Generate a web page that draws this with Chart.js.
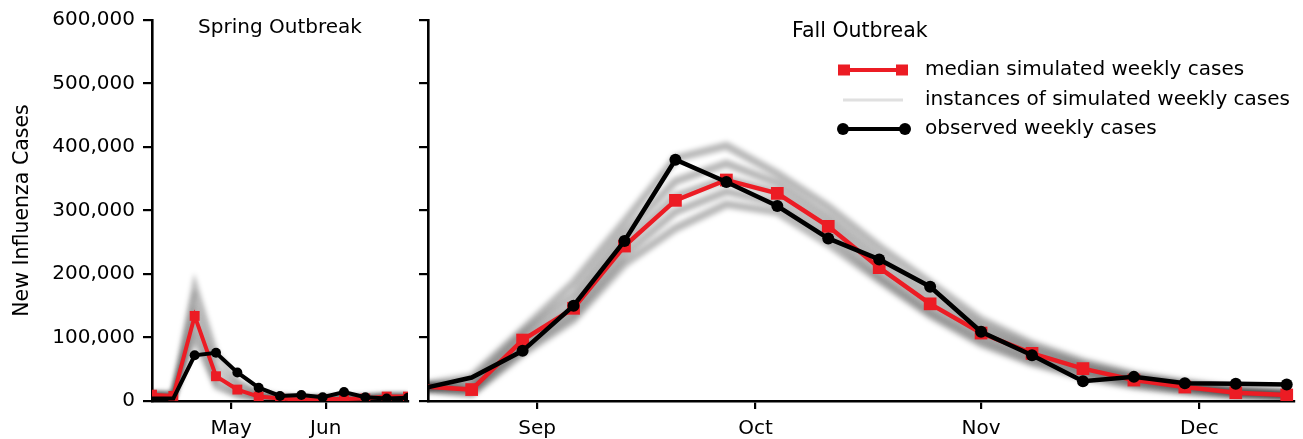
<!DOCTYPE html>
<html><head><meta charset="utf-8">
<script src="https://cdn.jsdelivr.net/npm/chart.js@4.4.1/dist/chart.umd.min.js"></script>
<style>
html,body{margin:0;padding:0;background:#fff;}
#wrap{position:relative;width:1303px;height:439px;overflow:hidden;background:#fff;}
.box{position:absolute;top:0;height:439px;}
</style></head><body>
<div id="wrap">
  <div class="box" style="left:0;width:420px;"><canvas id="c1"></canvas></div>
  <div class="box" style="left:410px;width:893px;"><canvas id="c2"></canvas></div>
</div>
<script>
// ---------- DATA ----------
// day-of-year (2009) of each weekly point
const springDays = [95,102,109,116,123,130,137,144,151,158,165,172,179];
const springMedian   = [10000, 8000, 134000, 39000, 18000, 7000, 4000, 2000, 3000, 3000, 4000, 7000, 7000];
const springObserved = [4000, 4000, 72000, 76000, 45000, 21000, 8000, 9500, 6000, 14000, 6000, 4000, 5000];
const springInst1 = [12000, 12000, 185000, 75000, 32000, 14000, 7000, 5000, 5000, 6000, 7000, 9000, 9000];
const springInst2 = [11000, 10000, 160000, 55000, 25000, 10000, 5000, 3000, 4000, 4000, 5000, 8000, 8000];
const springInst3 = [10000, 8000, 136000, 41000, 18000, 7000, 4000, 2000, 3000, 3000, 4000, 7000, 7000];
const springInst4 = [9000, 6000, 116000, 30000, 12000, 5000, 3000, 1500, 2000, 2000, 3000, 5000, 5000];
const springInst5 = [8000, 5000, 98000, 22000, 8000, 3000, 2000, 1000, 1500, 1500, 2000, 4000, 4000];

const fallDays = [228,235,242,249,256,263,270,277,284,291,298,305,312,319,326,333,340,347];
const fallMedian   = [23000, 18000, 96000, 146000, 244000, 316000, 348000, 327000, 275000, 210000, 153000, 107000, 75000, 51000, 33000, 22000, 13000, 9500];
const fallObserved = [19000, 37000, 79000, 150000, 252000, 380000, 345000, 307000, 256000, 223000, 180000, 109000, 72000, 31000, 38000, 28000, 27000, 26000];
const fallInst1 = [24000, 38000, 112000, 186000, 282000, 382000, 402000, 358000, 306000, 243000, 186000, 128000, 90000, 62000, 42000, 29000, 19000, 14000];
const fallInst2 = [23000, 28000, 104000, 167000, 264000, 346000, 374000, 343000, 290000, 227000, 169000, 117000, 82000, 56000, 37000, 25000, 16000, 11000];
const fallInst3 = [22000, 20000, 93000, 150000, 247000, 322000, 350000, 328000, 276000, 212000, 155000, 108000, 75000, 50000, 33000, 22000, 13000, 9000];
const fallInst4 = [21000, 15000, 83000, 138000, 230000, 298000, 330000, 312000, 262000, 198000, 142000, 98000, 66000, 44000, 28000, 18000, 11000, 8000];
const fallInst5 = [20000, 12000, 75000, 128000, 216000, 272000, 310000, 298000, 248000, 190000, 135000, 90000, 60000, 38000, 24000, 15000, 9000, 6000];

const yTickValues = [0, 100000, 200000, 300000, 400000, 500000, 600000];
const springTickDays = [121, 152];
const springTickLabels = ['May', 'Jun'];
const fallTickDays = [244, 274, 305, 335];
const fallTickLabels = ['Sep', 'Oct', 'Nov', 'Dec'];

const titleSpring = 'Spring Outbreak';
const titleFall = 'Fall Outbreak';
const yAxisTitle = 'New Influenza Cases';
const legendLabels = ['median simulated weekly cases', 'instances of simulated weekly cases', 'observed weekly cases'];

// ---------- STYLE ----------
const FONT = 'DejaVu Sans';
const RED = '#ec1c24';
const INST = 'rgba(0,0,0,0.28)';
const OFF = 410;

function pts(xs, ys){ return xs.map((x,i)=>({x:x, y:ys[i]})); }

function instDs(xs, arr, w){
  return {data:pts(xs,arr), borderColor:INST, borderWidth:w, pointRadius:0, tension:0, order:5, isInstance:true};
}

const blurPlugin = {
  id:'instBlur',
  beforeDatasetDraw(chart, args){
    if(args.meta._dataset && args.meta._dataset.isInstance){ chart.ctx.filter = 'blur(2.5px)'; }
  },
  afterDatasetDraw(chart, args){
    chart.ctx.filter = 'none';
  }
};

const textPlugin = {
  id:'panelText',
  afterDraw(chart){
    const o = chart.options.plugins.panelText;
    if(!o) return;
    const ctx = chart.ctx;
    ctx.save();
    ctx.fillStyle = '#000';
    ctx.font = o.size + 'px "' + FONT + '"';
    ctx.textBaseline = 'middle';
    ctx.textAlign = o.align || 'left';
    ctx.fillText(o.text, o.x, o.y);
    if(o.legend){
      const L = (x1,y1,x2,y2)=>{ctx.beginPath();ctx.moveTo(x1,y1);ctx.lineTo(x2,y2);ctx.stroke();};
      ctx.lineCap = 'butt';
      ctx.strokeStyle = RED; ctx.lineWidth = 4;
      L(840-OFF,70,906-OFF,70);
      ctx.fillStyle = RED;
      ctx.fillRect(838-OFF,64.5,12,11); ctx.fillRect(896-OFF,64.5,12,11);
      ctx.strokeStyle = '#e0e0e0'; ctx.lineWidth = 3;
      L(843-OFF,100,903-OFF,100);
      ctx.strokeStyle = '#000'; ctx.lineWidth = 4;
      L(843-OFF,129,905-OFF,129);
      ctx.fillStyle = '#000';
      ctx.beginPath(); ctx.arc(843-OFF,129,6,0,Math.PI*2); ctx.fill();
      ctx.beginPath(); ctx.arc(905-OFF,129,6,0,Math.PI*2); ctx.fill();
      ctx.font = '20px "' + FONT + '"';
      ctx.textAlign = 'left';
      ctx.fillText(legendLabels[0], 925-OFF, 70);
      ctx.fillText(legendLabels[1], 925-OFF, 100);
      ctx.fillText(legendLabels[2], 925-OFF, 129);
    }
    ctx.restore();
  }
};

function yScale(showLabels, width){
  return {
    type:'linear', min:0, max:600000,
    afterBuildTicks: s => { s.ticks = yTickValues.map(v=>({value:v})); },
    ticks:{ display:showLabels, color:'#000', padding:8,
      font:{family:FONT, size:20},
      callback: v => Number(v).toLocaleString('en-US') },
    grid:{ drawOnChartArea:false, drawTicks:true, color:'#000', lineWidth:2.2, tickLength:9 },
    border:{ display:true, color:'#000', width:2.6 },
    title:{ display:showLabels, text:yAxisTitle, color:'#000',
      font:{family:FONT, size:20.5}, padding:{top:10,bottom:0} },
    afterFit: s => { s.width = width; }
  };
}

function xScale(min, max, tickDays, tickLabels){
  return {
    type:'linear', min:min, max:max,
    afterBuildTicks: s => { s.ticks = tickDays.map(v=>({value:v})); },
    ticks:{ color:'#000', padding:8, autoSkip:false, maxRotation:0,
      font:{family:FONT, size:20},
      callback: (v,i) => tickLabels[i] },
    grid:{ drawOnChartArea:false, drawTicks:true, color:'#000', lineWidth:2.2, tickLength:8 },
    border:{ display:true, color:'#000', width:2.6 },
    afterFit: s => { s.height = 38; }
  };
}

Chart.register(textPlugin, blurPlugin);

new Chart(document.getElementById('c1'), {
  type:'line',
  data:{ datasets:[
    instDs(springDays, springInst1, 5),
    instDs(springDays, springInst2, 5),
    instDs(springDays, springInst3, 5),
    instDs(springDays, springInst4, 5),
    instDs(springDays, springInst5, 5),
    {data:pts(springDays, springMedian), borderColor:RED, backgroundColor:RED, borderWidth:4,
      pointStyle:'rect', pointRadius:7, pointBorderWidth:0, tension:0, order:2},
    {data:pts(springDays, springObserved), borderColor:'#000', backgroundColor:'#000', borderWidth:4,
      pointStyle:'circle', pointRadius:[0,0,5,5,5,5,5,5,5,5,5,5,5], pointBorderWidth:0, tension:0, order:1}
  ]},
  options:{
    responsive:true, maintainAspectRatio:false, animation:false,
    layout:{ padding:{left:0,right:12,top:20,bottom:0} },
    plugins:{ legend:{display:false}, tooltip:{enabled:false},
      panelText:{ text:titleSpring, x:280, y:28, size:20, align:'center' } },
    scales:{ x: xScale(95, 179, springTickDays, springTickLabels), y: yScale(true, 152) }
  }
});

new Chart(document.getElementById('c2'), {
  type:'line',
  data:{ datasets:[
    instDs(fallDays, fallInst1, 8),
    instDs(fallDays, fallInst2, 8),
    instDs(fallDays, fallInst3, 8),
    instDs(fallDays, fallInst4, 8),
    instDs(fallDays, fallInst5, 8),
    {data:pts(fallDays, fallMedian), borderColor:RED, backgroundColor:RED, borderWidth:4.5,
      pointStyle:'rect', pointRadius:[0,9,9,9,9,9,9,9,9,9,9,9,9,9,9,9,9,9], pointBorderWidth:0, tension:0, order:2},
    {data:pts(fallDays, fallObserved), borderColor:'#000', backgroundColor:'#000', borderWidth:4.5,
      pointStyle:'circle', pointRadius:[0,0,6,6,6,6,6,6,6,6,6,6,6,6,6,6,6,6], pointBorderWidth:0, tension:0, order:1}
  ]},
  options:{
    responsive:true, maintainAspectRatio:false, animation:false,
    layout:{ padding:{left:0,right:8,top:20,bottom:0} },
    plugins:{ legend:{display:false}, tooltip:{enabled:false},
      panelText:{ text:titleFall, x:792-OFF, y:32, size:20.5, align:'left', legend:true } },
    scales:{ x: xScale(229, 348, fallTickDays, fallTickLabels), y: yScale(false, 18) }
  }
});
</script>
</body></html>
